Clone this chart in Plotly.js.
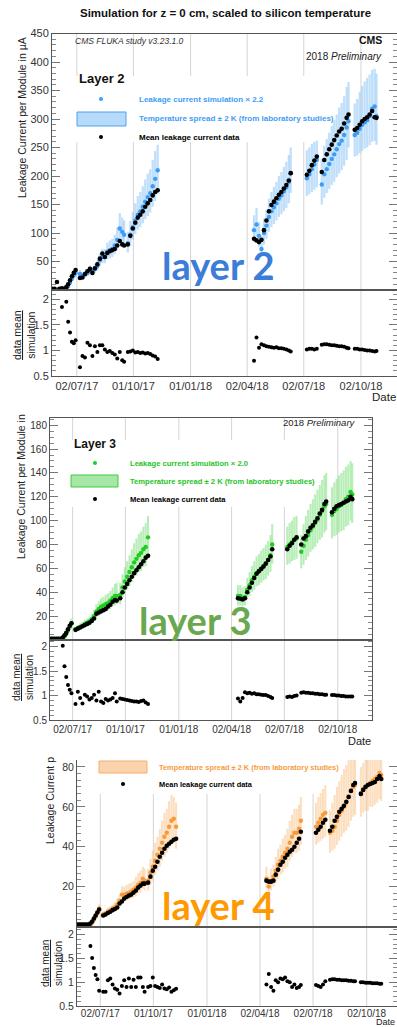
<!DOCTYPE html>
<html><head><meta charset="utf-8">
<script src="https://cdn.plot.ly/plotly-3.0.1.min.js"></script>
<style>html,body{margin:0;padding:0;background:#fff}#chart{width:397px;height:1027px}</style>
</head><body><div id="chart"></div>
<script>
// ---------------- DATA ----------------
const dates = [
 '2017-05-23','2017-05-27','2017-05-31','2017-06-04','2017-06-08','2017-06-12','2017-06-15','2017-06-18','2017-06-21','2017-06-24','2017-06-27','2017-06-30',
 '2017-07-07','2017-07-11','2017-07-15','2017-07-19','2017-07-23','2017-07-27','2017-07-31','2017-08-04','2017-08-08','2017-08-12','2017-08-16','2017-08-20','2017-08-24','2017-08-28','2017-09-01','2017-09-05','2017-09-09','2017-09-13','2017-09-16',
 '2017-09-22','2017-09-26','2017-09-30','2017-10-04','2017-10-08','2017-10-12','2017-10-16','2017-10-20','2017-10-24','2017-10-28','2017-11-01','2017-11-05','2017-11-09',
 '2018-04-13','2018-04-17','2018-04-21','2018-04-25','2018-04-29','2018-05-03','2018-05-07','2018-05-11','2018-05-15','2018-05-19','2018-05-23','2018-05-27','2018-05-31','2018-06-04','2018-06-08','2018-06-11',
 '2018-07-07','2018-07-11','2018-07-15','2018-07-19','2018-07-23',
 '2018-07-31','2018-08-04','2018-08-08','2018-08-12','2018-08-16','2018-08-20','2018-08-24','2018-08-28','2018-09-01','2018-09-05','2018-09-09','2018-09-12',
 '2018-09-22','2018-09-26','2018-09-30','2018-10-04','2018-10-08','2018-10-12','2018-10-16','2018-10-20','2018-10-24','2018-10-27'
];
const dateTickVals = ['2017-07-02','2017-10-01','2018-01-01','2018-04-02','2018-07-02','2018-10-02'];
const dateTickText = ['02/07/17','01/10/17','01/01/18','02/04/18','02/07/18','02/10/18'];
const l2YTicks = [50,100,150,200,250,300,350,400,450];
const l3YTicks = [20,40,60,80,100,120,140,160,180];
const l4YTicks = [20,40,60,80];
const ratioTicks = [0.5,1,1.5,2];
const ratioTickText = ['0.5','1','1.5','2'];

// Layer 2
const l2Data = [2,2,14,2,3,2,5,10,17,24,30,35,
 21,22,28,33,37,30,38,45,55,64,58,65,68,70,72,78,86,80,78,
 80,95,108,118,127,132,138,146,152,158,166,172,175,
 90,87,84,88,105,122,138,149,155,161,167,172,178,184,192,205,
 202,209,219,227,234,
 207,228,238,247,255,263,271,278,283,292,302,308,
 281,284,290,296,300,303,308,314,303,302];
const l2Sim = [1,1,1,1,1.5,1.5,3,7,13,20,26,30,
 28,25,27,30,35,33,37,42,52,58,58,67,70,72,78,88,108,102,97,
 82,97,110,122,132,138,146,155,163,170,182,195,210,
 105,115,95,72,100,113,128,138,145,152,160,166,173,180,190,205,
 196,203,212,220,228,
 185,203,212,221,230,238,247,256,262,272,285,296,
 272,276,283,290,294,298,305,318,322,305];
const l2Lo = [0.5,0.5,0.5,0.5,1,1,2,5,10,16,21,24,
 22,20,22,24,28,26,30,34,42,47,47,54,56,58,63,70,86,82,78,
 66,78,88,98,106,110,117,124,130,136,146,156,168,
 84,92,76,62,80,90,102,110,116,122,128,133,138,144,152,170,
 165,168,172,176,180,
 150,162,170,177,184,190,198,205,210,218,228,250,
 234,236,240,244,248,250,254,260,262,255];
const l2Hi = [1.5,1.5,1.5,1.5,2,2,4,9,16,25,32,37,
 35,31,34,37,43,41,46,52,64,72,72,83,87,90,97,110,135,127,122,
 102,121,137,152,165,172,182,194,204,212,228,244,255,
 131,144,119,95,125,141,160,172,181,190,200,207,216,225,237,250,
 245,250,256,260,262,
 230,253,265,276,288,298,308,320,328,340,356,365,
 327,335,348,358,366,372,378,386,388,380];
const l2Ratio = [null,null,null,null,1.85,null,1.95,1.56,1.35,1.17,1.14,1.2,
 0.67,0.89,0.86,1.15,1.10,0.89,1.08,0.97,1.10,1.10,1.02,0.97,0.99,0.95,0.92,0.84,0.97,0.81,0.78,
 0.97,0.98,1.0,0.96,0.97,0.95,0.96,0.94,0.95,0.93,0.90,0.88,0.83,
 0.80,1.25,1.05,1.12,1.10,1.08,1.07,1.06,1.05,1.06,1.04,1.04,1.03,1.02,1.0,0.98,
 1.02,1.03,1.03,1.02,1.03,
 1.11,1.12,1.12,1.11,1.10,1.10,1.09,1.08,1.08,1.07,1.05,1.04,
 1.03,1.03,1.02,1.02,1.01,1.00,1.00,0.99,0.98,0.99];

// Layer 3
const l3Data = [1,1,1,1,1,1,2,4,6,9,12,14,
 8.5,9.5,10.5,11.5,12.5,13.5,14.5,16,18,22,23,24,25,26,28,29.5,32,33.5,33,
 35,40,44,47,50,53,56,58.5,61,63.5,66,69,70.5,
 35,34.5,34,35,40,44,48,52,55.5,57.5,59.5,61.5,64,67,70,76,
 76,79,81,84,86,
 80,85,87,91,94,96,99,102,106,109,114,116,
 107,110,112,113,114,115,116,117,120,118];
const l3Sim = [1,1,1,1,1,1,1.5,3,5,8,11,14,
 9,10,11,12,13.5,14.5,15.5,17.5,20,24,26,28,29,30,31,33,35,37,37,
 38,44,49,53,57,61,65,68,71,73,76,78,86,
 37,37,35,36,42,46,50,53,56,58,60,62,64,67,71,80,
 78,80,82,84,85,
 74,79,84,88,92,95,98,101,105,108,112,114,
 105,108,110,112,113,115,118,120,124,122];
const l3Lo = [0.5,0.5,0.5,0.5,0.5,0.5,1,2,4,6,9,11,
 7,8,8.5,9.5,10.5,11.5,12,14,16,19,20,22,23,24,25,26,28,29,30,
 30,35,39,42,45,49,52,54,57,58,61,62,69,
 29,29,28,29,34,37,40,42,45,46,48,50,51,54,57,64,
 63,64,66,67,68,
 60,63,67,70,74,76,78,81,84,86,90,92,
 85,87,88,90,91,92,95,96,100,98];
const l3Hi = [1.5,1.5,1.5,1.5,1.5,1.5,2,4,6.5,10,14,18,
 11,12.5,14,15,17,18,19.5,22,25,30,32.5,35,36,38,39,41,44,47,48,
 48,55,61,66,71,76,81,85,89,91,95,98,104,
 46,46,44,45,52,57,62,66,70,72,75,77,80,83,88,97,
 95,98,100,103,104,
 88,97,104,109,114,118,122,126,130,134,138,140,
 128,132,135,138,140,142,145,147,150,148];
const l3Ratio = [null,null,null,null,null,null,2.02,1.6,1.38,1.22,1.12,1.05,
 0.83,1.08,0.95,0.84,1.02,0.98,0.92,0.95,1.02,0.90,1.08,0.88,0.85,0.93,0.90,0.92,0.95,1.05,0.88,
 0.94,0.93,0.92,0.91,0.90,0.89,0.88,0.88,0.87,0.89,0.90,0.86,0.83,
 0.94,0.88,0.95,1.07,1.05,1.06,1.04,1.05,1.03,1.03,1.02,1.01,1.01,0.99,0.97,0.95,
 0.97,0.98,0.97,0.99,1.0,
 1.06,1.07,1.06,1.06,1.05,1.05,1.04,1.04,1.03,1.03,1.02,1.02,
 1.01,1.01,1.0,1.0,0.99,0.99,0.98,0.98,0.98,0.98];

// Layer 4
const l4Data = [1,1,1,1,1,1,1.5,2.5,4,5.5,7,8.5,
 5.5,6,6.8,7.4,8.2,8.8,9.5,11.5,12.5,14,14.8,15.5,16,17,18,19.5,20.5,21.5,21.5,
 22,25,28,30,32.5,35,37,39,40.5,41.5,42.5,43.5,44,
 23,22.5,22.5,23,26,28.5,31,32.5,34.5,36,37.5,38.5,40,42,44,47.5,
 47,48.5,50,52,53.5,
 48,50,53,55,57.5,59,60.5,62.5,65,68,71,72,
 66.5,68.5,70,71,71.5,72,72.5,74,75.5,74];
const l4Sim = [1,1,1,1,1,1,1,2,3.5,5,7,9,
 6,6.5,7.5,8,9,9.5,11,13,16,16,16.5,17,17.5,18.5,19.5,21,22,24,23,
 23,27,30,33,36,39,42,45,47,50,53,54,50,
 24,20,23,25,28,31,33,35,37,39,42,45,47,47,49,53,
 50,52,54,56,57,
 47,48,50,53,56,58,60,62,65,68,70,71,
 67,69,70,71,72,73,74,75,77,76];
const l4Lo = [0.5,0.5,0.5,0.5,0.5,0.5,0.8,1.5,2.5,4,5.5,7,
 4.5,5,6,6.5,7,7.5,8.5,10,12.5,12.5,13,13.5,14,14.5,15,16.5,17,19,18,
 18,21,23,26,28,30,33,35,37,39,41,42,39,
 19,16,18,20,22,24,26,27,29,30,33,35,37,37,38,41,
 41,42,43,44,45,
 37,38,39,41,43,45,47,48,50,53,55,56,
 55,57,58,58,60,60,61,62,64,63];
const l4Hi = [1.5,1.5,1.5,1.5,1.5,1.5,1.5,3,4.5,6.5,8.5,11,
 7.5,8,9.5,10,11,12,14,16,20,20,21,21.5,22,23,25,27,28,30,29,
 29,34,38,42,45,49,53,57,59,63,66,65,62,
 30,25,29,31,35,39,41,44,46,49,53,56,59,59,61,65,
 62,65,67,69,71,
 58,62,66,70,73,76,79,81,84,86,88,89,
 80,82,84,86,88,89,91,92,93,92];
const l4Ratio = [null,null,null,null,null,null,1.76,1.51,1.3,1.15,1.06,0.82,
 0.80,0.80,1.04,1.08,0.95,0.87,0.84,0.76,0.92,1.04,0.90,1.08,0.90,1.05,0.90,1.10,1.10,0.90,0.80,
 0.90,0.92,1.10,0.92,0.90,0.88,0.95,0.87,0.85,0.89,0.80,0.83,0.86,
 0.95,1.17,0.90,0.82,1.04,1.00,1.08,1.06,1.10,1.02,1.0,0.90,0.95,0.88,0.90,0.94,
 0.94,0.92,0.90,0.95,1.02,
 1.05,1.06,1.06,1.05,1.05,1.04,1.04,1.04,1.03,1.03,1.02,1.02,
 1.0,1.0,0.99,0.99,0.99,0.98,0.98,0.98,0.97,0.97];

// ---------------- LAYOUT ----------------
const W = 397, H = 1027;
const FONT = '"Liberation Sans", Arial, Helvetica, sans-serif';
const DAY = 86400000;
const PX = v => v / W, PY = v => 1 - v / H;

const panels = [
  {data:l2Data, sim:l2Sim, lo:l2Lo, hi:l2Hi, ratio:l2Ratio, simColor:'#3d9df5', bandColor:'rgba(140,196,247,0.55)',
   xl:52, xr:397, top:33.5, mid:290, bot:376, xrange:['2017-05-23','2018-11-29'], yrange:[0,450], yticks:l2YTicks, yminor:10,
   rrange:[0.5,2.18], fs:11, xfs:11, standoff:0, mirrorTop:true, mask:[62,335,76,142]},
  {data:l3Data, sim:l3Sim, lo:l3Lo, hi:l3Hi, ratio:l3Ratio, simColor:'#1fcc1f', bandColor:'rgba(128,224,128,0.55)',
   xl:50, xr:372, top:418, mid:640, bot:720, xrange:['2017-05-24','2018-11-30'], yrange:[0,186], yticks:l3YTicks, yminor:5,
   rrange:[0.5,2.14], fs:10, xfs:10, standoff:0, mirrorTop:true, mask:[62,318,440,507]},
  {data:l4Data, sim:l4Sim, lo:l4Lo, hi:l4Hi, ratio:l4Ratio, simColor:'#f99a3a', bandColor:'rgba(250,196,140,0.55)',
   xl:77, xr:397, top:760, mid:926.5, bot:1006, xrange:['2017-05-23','2018-11-23'], yrange:[0,83.5], yticks:l4YTicks, yminor:10/3,
   rrange:[0.5,2.17], fs:10.5, xfs:10, standoff:-2, mirrorTop:false, mask:[90,345,760,794]}
];

const traces = [];
const layout = {
  width: W, height: H, margin:{l:0,r:0,t:0,b:0}, paper_bgcolor:'#fff', plot_bgcolor:'rgba(0,0,0,0)',
  showlegend:false, barmode:'overlay', font:{family:FONT, color:'#222'}, annotations:[], shapes:[]
};

panels.forEach((p, i) => {
  const m = 2*i + 1, r = 2*i + 2;
  const sfx = n => (n === 1 ? '' : String(n));
  const xm = 'x' + sfx(m), ym = 'y' + sfx(m), xrn = 'x' + r, yrn = 'y' + r;
  const axisLine = {showline:true, linecolor:'#555', linewidth:1, zeroline:false, fixedrange:true};
  const xBase = Object.assign({}, axisLine, {
    type:'date', domain:[PX(p.xl), PX(p.xr)], range:p.xrange, tickmode:'array',
    tickvals:dateTickVals, ticktext:dateTickText, showgrid:false, ticks:''
  });
  layout['xaxis' + sfx(m)] = Object.assign({}, xBase, {anchor:ym, showticklabels:false, mirror:p.mirrorTop});
  const xr = Object.assign({}, xBase, {anchor:yrn, showticklabels:true, mirror:true,
    tickfont:{size:p.xfs, color:'#333', family:FONT}});
  if (p.standoff) xr.ticklabelstandoff = p.standoff;
  layout['xaxis' + r] = xr;
  const yBase = Object.assign({}, axisLine, {
    showgrid:false, ticks:'inside', ticklen:8, tickcolor:'#777', tickwidth:1, mirror:'ticks',
    tickfont:{size:p.fs, color:'#333', family:FONT}
  });
  layout['yaxis' + sfx(m)] = Object.assign({}, yBase, {
    anchor:xm, domain:[PY(p.mid), PY(p.top)], range:p.yrange, tickmode:'array', tickvals:p.yticks,
    minor:{tickmode:'linear', tick0:0, dtick:p.yminor, ticks:'inside', ticklen:4, tickcolor:'#888', showgrid:false}
  });
  layout['yaxis' + r] = Object.assign({}, yBase, {
    anchor:xrn, domain:[PY(p.bot), PY(p.mid)], range:p.rrange, tickmode:'array', tickvals:ratioTicks, ticktext:ratioTickText,
    minor:{tickmode:'linear', tick0:0.5, dtick:0.1, ticks:'inside', ticklen:4, tickcolor:'#888', showgrid:false}
  });
  // vertical date grid lines (main + ratio), drawn as shapes so the legend box can hide them
  [[xm, ym], [xrn, yrn]].forEach(([xa, ya]) => {
    dateTickVals.forEach(d => layout.shapes.push({type:'line', layer:'below', xref:xa, yref:ya + ' domain',
      x0:d, x1:d, y0:0, y1:1, line:{color:'#d4d4d4', width:1}}));
  });
  // white legend background over the grid
  const mk = p.mask;
  layout.shapes.push({type:'rect', layer:'below', xref:xm + ' domain', yref:ym + ' domain',
    x0:(mk[0]-p.xl)/(p.xr-p.xl), x1:(mk[1]-p.xl)/(p.xr-p.xl), y0:(p.mid-mk[3])/(p.mid-p.top), y1:Math.min(1,(p.mid-mk[2])/(p.mid-p.top)),
    fillcolor:'#fff', line:{width:0}});

  // temperature spread band
  traces.push({type:'bar', x:dates, base:p.lo, y:p.hi.map((h, k) => h - p.lo[k]), width:3.6*DAY,
    marker:{color:p.bandColor, line:{width:0}}, xaxis:xm, yaxis:ym, hoverinfo:'skip'});
  // simulation
  traces.push({type:'scatter', mode:'markers', x:dates, y:p.sim, xaxis:xm, yaxis:ym,
    marker:{color:p.simColor, size:4.4}, hoverinfo:'skip'});
  // data
  traces.push({type:'scatter', mode:'markers', x:dates, y:p.data, xaxis:xm, yaxis:ym,
    marker:{color:'#000', size:4.6}, hoverinfo:'skip'});
  // ratio
  traces.push({type:'scatter', mode:'markers', x:dates, y:p.ratio, xaxis:xrn, yaxis:yrn,
    marker:{color:'#000', size:4}, hoverinfo:'skip'});
});

function ann(text, x, y, opt) {
  opt = opt || {};
  layout.annotations.push({
    text:text, x:PX(x), y:PY(y), xref:'paper', yref:'paper', showarrow:false,
    xanchor:opt.xa || 'left', yanchor:'middle', textangle:opt.rot || 0,
    font:{family:opt.family || FONT, size:opt.size || 11, color:opt.color || '#222', weight:opt.weight || 'normal'}
  });
}
function dot(x, y, color) {
  layout.shapes.push({type:'circle', xref:'paper', yref:'paper', x0:PX(x-2), x1:PX(x+2), y0:PY(y+2), y1:PY(y-2),
    fillcolor:color, line:{width:0}, layer:'above'});
}
function box(x0, x1, y0, y1, fill, line) {
  layout.shapes.push({type:'rect', xref:'paper', yref:'paper', x0:PX(x0), x1:PX(x1), y0:PY(y1), y1:PY(y0),
    fillcolor:fill, line:{color:line, width:1}, layer:'above'});
}

const OVER = 'Lato, "Open Sans", sans-serif';
// Panel 1 texts
ann('<b>Simulation for z = 0 cm, scaled to silicon temperature</b>', 225, 13, {xa:'center', size:11.5, color:'#111'});
ann('<i>CMS FLUKA study v3.23.1.0</i>', 73, 41, {size:8.5, color:'#333'});
ann('<b>CMS</b>', 384, 40, {xa:'right', size:10.5, color:'#111'});
ann('2018 <i>Preliminary</i>', 384, 56, {xa:'right', size:10, color:'#222'});
ann('<b>Layer 2</b>', 77, 79, {size:13, color:'#111'});
dot(101, 99, '#3d9df5');
ann('<b>Leakage current simulation × 2.2</b>', 137, 99, {size:8, color:'#3d9df5'});
box(77, 126, 112, 126, '#b7dafa', '#4aa3f0');
ann('<b>Temperature spread ± 2 K (from laboratory studies)</b>', 137, 118, {size:8, color:'#3d9df5'});
dot(101, 137, '#000');
ann('<b>Mean leakage current data</b>', 137, 137, {size:8, color:'#000'});
ann('Leakage Current per Module in µA', 22, 118, {xa:'center', rot:-90, size:10.5, color:'#222'});
ann('<u>data mean</u><br>simulation', 24, 335, {xa:'center', rot:-90, size:10.5, color:'#222'});
ann('Date', 398, 397, {xa:'right', size:11.5, color:'#222'});
ann('layer 2', 218, 265, {xa:'center', size:38, color:'#3b7dd8', family:OVER, weight:'bold'});

// Panel 2 texts
ann('2018 <i>Preliminary</i>', 358, 422, {xa:'right', size:9.5, color:'#222'});
ann('<b>Layer 3</b>', 72, 444, {size:12, color:'#111'});
dot(95, 463, '#1fcc1f');
ann('<b>Leakage current simulation × 2.0</b>', 128, 463, {size:7.6, color:'#1fc41f'});
box(71, 118, 475, 487, '#a6e6a6', '#3fcc3f');
ann('<b>Temperature spread ± 2 K (from laboratory studies)</b>', 128, 481, {size:7.6, color:'#1fc41f'});
dot(95, 499, '#000');
ann('<b>Mean leakage current data</b>', 128, 499, {size:7.6, color:'#000'});
ann('Leakage Current per Module in', 21, 487, {xa:'center', rot:-90, size:10.5, color:'#222'});
ann('<u>data mean</u><br>simulation', 23, 678, {xa:'center', rot:-90, size:10, color:'#222'});
ann('Date', 373, 741, {xa:'right', size:11, color:'#222'});
ann('layer 3', 195, 620, {xa:'center', size:38, color:'#6aa84f', family:OVER, weight:'bold'});

// Panel 3 texts
box(99, 147, 761, 773, '#fbd3ac', '#f5ae6a');
ann('<b>Temperature spread ± 2 K (from laboratory studies)</b>', 157, 767, {size:7.4, color:'#f79a3d'});
dot(123, 784, '#000');
ann('<b>Mean leakage current data</b>', 157, 784, {size:7.4, color:'#000'});
ann('Leakage Current p', 50, 801, {xa:'center', rot:-90, size:10.5, color:'#222'});
ann('<u>data mean</u><br>simulation', 52, 964, {xa:'center', rot:-90, size:10, color:'#222'});
ann('Date', 397, 1021.5, {xa:'right', size:9, color:'#222'});
ann('layer 4', 218, 905, {xa:'center', size:38, color:'#ff9900', family:OVER, weight:'bold'});

Plotly.newPlot('chart', traces, layout, {staticPlot:true, displayModeBar:false});
</script>
</body></html>
